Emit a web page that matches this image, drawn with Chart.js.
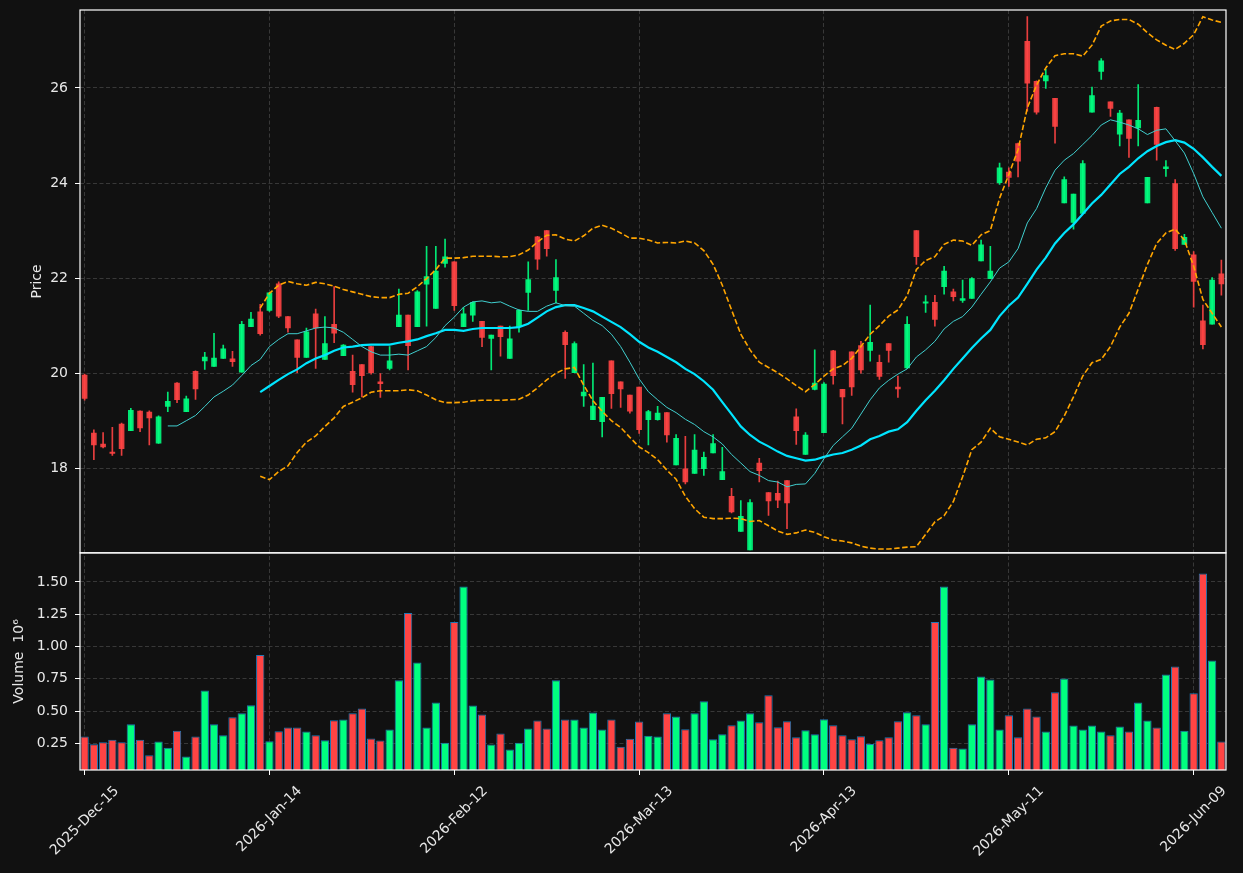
<!DOCTYPE html>
<html>
<head>
<meta charset="utf-8">
<title>Price / Volume</title>
<script src="https://cdn.jsdelivr.net/npm/chart.js@4.4.1/dist/chart.umd.min.js"></script>
<style>
  html, body { margin: 0; padding: 0; background: #111111; }
  #wrap { width: 1243px; height: 873px; }
</style>
</head>
<body>
<div id="wrap"><canvas id="chart" width="1243" height="873"></canvas></div>
<script>
// trading days (weekends / US holidays skipped)
const dates = [
  '2025-Dec-15','2025-Dec-16','2025-Dec-17','2025-Dec-18','2025-Dec-19',
  '2025-Dec-22','2025-Dec-23','2025-Dec-24','2025-Dec-26',
  '2025-Dec-29','2025-Dec-30','2025-Dec-31','2026-Jan-02',
  '2026-Jan-05','2026-Jan-06','2026-Jan-07','2026-Jan-08','2026-Jan-09',
  '2026-Jan-12','2026-Jan-13','2026-Jan-14','2026-Jan-15','2026-Jan-16',
  '2026-Jan-20','2026-Jan-21','2026-Jan-22','2026-Jan-23',
  '2026-Jan-26','2026-Jan-27','2026-Jan-28','2026-Jan-29','2026-Jan-30',
  '2026-Feb-02','2026-Feb-03','2026-Feb-04','2026-Feb-05','2026-Feb-06',
  '2026-Feb-09','2026-Feb-10','2026-Feb-11','2026-Feb-12','2026-Feb-13',
  '2026-Feb-17','2026-Feb-18','2026-Feb-19','2026-Feb-20',
  '2026-Feb-23','2026-Feb-24','2026-Feb-25','2026-Feb-26','2026-Feb-27',
  '2026-Mar-02','2026-Mar-03','2026-Mar-04','2026-Mar-05','2026-Mar-06',
  '2026-Mar-09','2026-Mar-10','2026-Mar-11','2026-Mar-12','2026-Mar-13',
  '2026-Mar-16','2026-Mar-17','2026-Mar-18','2026-Mar-19','2026-Mar-20',
  '2026-Mar-23','2026-Mar-24','2026-Mar-25','2026-Mar-26','2026-Mar-27',
  '2026-Mar-30','2026-Mar-31','2026-Apr-01','2026-Apr-02',
  '2026-Apr-06','2026-Apr-07','2026-Apr-08','2026-Apr-09','2026-Apr-10',
  '2026-Apr-13','2026-Apr-14','2026-Apr-15','2026-Apr-16','2026-Apr-17',
  '2026-Apr-20','2026-Apr-21','2026-Apr-22','2026-Apr-23','2026-Apr-24',
  '2026-Apr-27','2026-Apr-28','2026-Apr-29','2026-Apr-30','2026-May-01',
  '2026-May-04','2026-May-05','2026-May-06','2026-May-07','2026-May-08',
  '2026-May-11','2026-May-12','2026-May-13','2026-May-14','2026-May-15',
  '2026-May-18','2026-May-19','2026-May-20','2026-May-21','2026-May-22',
  '2026-May-26','2026-May-27','2026-May-28','2026-May-29',
  '2026-Jun-01','2026-Jun-02','2026-Jun-03','2026-Jun-04','2026-Jun-05',
  '2026-Jun-08','2026-Jun-09','2026-Jun-10','2026-Jun-11','2026-Jun-12'
];

// date labels shown on the x axis
const shownDates = ['2025-Dec-15','2026-Jan-14','2026-Feb-12','2026-Mar-13','2026-Apr-13','2026-May-11','2026-Jun-09'];

const opens = [
  19.96,18.74,18.51,18.34,18.93,18.79,19.20,19.18,18.53,19.30,
  19.79,19.19,20.04,20.26,20.14,20.31,20.30,20.02,20.98,21.29,
  21.32,21.88,21.19,20.70,20.33,21.25,20.29,21.03,20.37,20.04,
  20.18,20.56,19.82,20.10,20.98,21.22,20.98,21.87,21.36,22.31,
  22.34,20.98,21.22,21.09,20.73,20.99,20.31,20.98,21.70,22.87,
  23.00,21.74,20.86,20.01,19.52,19.02,18.98,20.26,19.82,19.54,
  19.71,19.02,19.02,19.17,18.07,17.99,17.89,17.99,18.32,17.76,
  17.41,16.67,16.28,18.11,17.49,17.47,17.74,19.08,18.29,19.66,
  18.75,20.47,19.66,20.45,20.58,20.48,20.23,20.62,19.71,20.11,
  23.00,21.47,21.49,21.82,21.71,21.53,21.57,22.36,21.99,24.01,
  24.23,24.83,26.98,26.14,26.15,25.78,23.58,23.17,23.36,25.49,
  26.35,25.71,25.03,25.33,25.16,23.58,25.59,24.30,23.99,22.71,
  22.49,21.10,21.03,22.09
];
const highs = [
  19.98,18.81,18.75,18.86,18.95,19.26,19.21,19.21,19.10,19.60,
  19.80,19.52,20.05,20.44,20.84,20.59,20.46,21.09,21.28,21.45,
  21.70,21.92,21.19,20.70,20.95,21.35,21.19,21.82,20.60,20.38,
  20.18,20.57,19.99,20.56,21.77,21.22,21.74,22.67,22.67,22.82,
  22.35,21.38,21.50,21.09,20.80,20.99,20.99,21.33,22.34,22.88,
  23.00,22.39,20.89,20.66,20.18,20.21,19.49,20.26,19.82,19.54,
  19.71,19.22,19.30,19.17,18.71,18.67,18.71,18.34,18.71,18.44,
  17.58,17.32,17.34,18.21,17.49,17.73,17.74,19.25,18.75,20.49,
  19.80,20.48,19.66,20.45,20.67,21.43,20.38,20.62,19.94,21.19,
  23.00,21.63,21.64,22.25,21.77,21.96,22.01,22.80,22.67,24.42,
  24.32,24.84,27.50,26.15,26.39,25.78,24.13,23.77,24.47,26.02,
  26.62,25.71,25.53,25.33,26.07,24.12,25.60,24.47,24.07,22.92,
  22.56,21.43,22.01,22.38
];
const lows = [
  19.43,18.18,18.43,18.27,18.27,18.79,18.77,18.49,18.52,19.19,
  19.38,19.19,19.45,20.08,20.14,20.31,20.14,20.02,20.98,20.80,
  21.30,21.17,20.86,20.01,20.33,20.10,20.29,20.64,20.37,19.60,
  19.50,19.98,19.49,20.07,20.98,20.07,20.98,20.99,21.36,22.23,
  21.32,20.98,21.09,20.56,20.07,20.36,20.31,20.86,21.32,22.18,
  22.46,21.48,19.89,20.01,19.30,19.02,18.66,19.26,19.28,19.16,
  18.73,18.49,19.01,18.55,18.07,17.67,17.89,17.85,18.32,17.76,
  17.06,16.67,16.28,17.71,17.01,17.17,16.73,18.50,18.29,19.65,
  18.75,19.77,18.93,19.53,20.00,20.25,19.87,20.23,19.49,20.10,
  22.29,21.28,20.99,21.66,21.52,21.49,21.57,22.36,21.99,23.97,
  23.93,24.13,25.51,25.45,25.99,24.84,23.58,23.03,23.36,25.49,
  26.18,25.40,24.78,24.54,24.78,23.58,24.48,24.14,22.58,22.71,
  21.39,20.51,21.03,21.64
];
const closes = [
  19.47,18.49,18.45,18.31,18.41,19.22,18.85,19.06,19.08,19.41,
  19.44,19.46,19.67,20.34,20.32,20.51,20.24,21.03,21.14,20.83,
  21.69,21.20,20.95,20.33,20.87,20.95,20.62,20.84,20.59,19.76,
  19.95,20.01,19.78,20.26,21.22,20.58,21.71,22.03,22.15,22.45,
  21.42,21.25,21.49,20.75,20.80,20.77,20.72,21.32,21.97,22.40,
  22.62,22.01,20.60,20.62,19.60,19.31,19.49,19.57,19.67,19.20,
  18.81,19.19,19.16,18.70,18.63,17.71,18.38,18.23,18.52,17.93,
  17.08,16.99,17.28,17.95,17.31,17.33,17.27,18.79,18.70,19.79,
  19.77,19.95,19.50,19.71,20.07,20.65,19.93,20.48,19.67,21.03,
  22.45,21.50,21.13,22.15,21.61,21.57,21.99,22.70,22.15,24.32,
  24.12,24.46,26.10,25.49,26.26,25.19,24.07,23.77,24.41,25.84,
  26.57,25.57,25.47,24.94,25.32,24.12,24.81,24.34,22.62,22.86,
  21.93,20.60,21.96,21.88
];
// volume in millions
const volumes = [
  0.302,0.242,0.258,0.278,0.258,0.397,0.278,0.157,0.263,0.216,
  0.348,0.147,0.302,0.659,0.397,0.312,0.452,0.483,0.545,0.933,
  0.266,0.343,0.372,0.372,0.341,0.312,0.273,0.428,0.434,0.483,
  0.520,0.287,0.271,0.356,0.739,1.259,0.876,0.372,0.565,0.255,
  1.189,1.465,0.542,0.472,0.240,0.325,0.201,0.255,0.364,0.426,
  0.364,0.739,0.434,0.434,0.372,0.488,0.356,0.434,0.224,0.286,
  0.418,0.309,0.302,0.483,0.457,0.359,0.483,0.576,0.281,0.320,
  0.390,0.426,0.483,0.413,0.622,0.374,0.421,0.297,0.351,0.320,
  0.436,0.390,0.312,0.281,0.304,0.245,0.273,0.297,0.421,0.490,
  0.467,0.397,1.189,1.465,0.216,0.209,0.397,0.767,0.744,0.356,
  0.467,0.297,0.519,0.457,0.341,0.646,0.752,0.387,0.356,0.387,
  0.341,0.312,0.379,0.341,0.565,0.426,0.372,0.783,0.845,0.348,
  0.638,1.566,0.891,0.263
];

// moving averages / bands as drawn (empty before each window fills)
const sma10 = [
  null,null,null,null,null,null,null,null,null,18.89,
  18.89,19.00,19.11,19.30,19.50,19.62,19.75,19.95,20.16,20.29,
  20.56,20.71,20.83,20.83,20.89,20.95,20.97,20.95,20.86,20.71,
  20.56,20.45,20.38,20.38,20.40,20.38,20.47,20.56,20.75,21.00,
  21.18,21.39,21.50,21.52,21.48,21.50,21.41,21.33,21.30,21.30,
  21.41,21.48,21.42,21.41,21.26,21.11,21.00,20.82,20.56,20.23,
  19.88,19.61,19.44,19.28,19.17,19.03,18.92,18.77,18.66,18.51,
  18.29,18.11,17.93,17.85,17.74,17.71,17.61,17.66,17.67,17.89,
  18.20,18.48,18.66,18.84,19.14,19.44,19.69,19.85,19.98,20.09,
  20.34,20.49,20.67,20.93,21.09,21.19,21.39,21.66,21.92,22.21,
  22.34,22.62,23.16,23.46,23.90,24.27,24.48,24.62,24.81,25.00,
  25.22,25.33,25.28,25.22,25.14,25.02,25.11,25.14,24.89,24.63,
  24.20,23.71,23.38,23.05
];
const sma20 = [
  null,null,null,null,null,null,null,null,null,null,
  null,null,null,null,null,null,null,null,null,19.60,
  19.73,19.86,19.98,20.08,20.21,20.31,20.38,20.47,20.54,20.56,
  20.59,20.60,20.60,20.60,20.64,20.67,20.71,20.78,20.84,20.91,
  20.91,20.89,20.93,20.95,20.95,20.95,20.95,20.97,21.04,21.17,
  21.30,21.39,21.43,21.43,21.37,21.30,21.19,21.08,20.97,20.82,
  20.66,20.54,20.45,20.34,20.23,20.09,19.98,19.83,19.65,19.39,
  19.14,18.88,18.70,18.56,18.46,18.35,18.26,18.21,18.16,18.18,
  18.24,18.29,18.32,18.39,18.48,18.61,18.68,18.77,18.82,18.97,
  19.21,19.43,19.63,19.85,20.09,20.31,20.53,20.73,20.91,21.20,
  21.42,21.59,21.88,22.18,22.43,22.73,22.95,23.13,23.35,23.57,
  23.75,23.97,24.19,24.34,24.52,24.67,24.78,24.86,24.90,24.85,
  24.72,24.54,24.34,24.15
];
const bbUpper = [
  null,null,null,null,null,null,null,null,null,null,
  null,null,null,null,null,null,null,null,null,21.37,
  21.68,21.85,21.93,21.88,21.85,21.91,21.88,21.83,21.76,21.71,
  21.66,21.61,21.59,21.59,21.66,21.68,21.82,21.99,22.18,22.42,
  22.42,22.43,22.46,22.46,22.46,22.45,22.45,22.49,22.59,22.76,
  22.90,22.91,22.82,22.78,22.89,23.05,23.11,23.05,22.95,22.84,
  22.84,22.80,22.74,22.75,22.74,22.78,22.74,22.58,22.29,21.85,
  21.33,20.82,20.49,20.23,20.12,20.01,19.88,19.74,19.61,19.76,
  19.94,20.09,20.16,20.31,20.56,20.82,21.00,21.20,21.33,21.63,
  22.18,22.37,22.45,22.71,22.80,22.78,22.69,22.91,23.00,23.68,
  24.18,24.70,25.58,26.06,26.42,26.68,26.72,26.72,26.67,26.90,
  27.30,27.41,27.44,27.44,27.34,27.16,27.01,26.90,26.81,26.94,
  27.12,27.50,27.43,27.38
];
const bbLower = [
  null,null,null,null,null,null,null,null,null,null,
  null,null,null,null,null,null,null,null,null,17.83,
  17.76,17.93,18.05,18.33,18.55,18.68,18.88,19.06,19.30,19.39,
  19.48,19.60,19.63,19.63,19.63,19.65,19.63,19.54,19.44,19.38,
  19.38,19.39,19.42,19.43,19.43,19.43,19.44,19.45,19.54,19.69,
  19.86,20.00,20.09,20.12,19.75,19.42,19.20,19.00,18.86,18.65,
  18.45,18.33,18.18,17.96,17.77,17.41,17.15,16.97,16.94,16.94,
  16.95,16.94,16.88,16.90,16.79,16.68,16.61,16.64,16.70,16.65,
  16.56,16.49,16.47,16.43,16.36,16.32,16.30,16.30,16.32,16.34,
  16.35,16.61,16.87,17.00,17.30,17.82,18.39,18.55,18.84,18.66,
  18.61,18.55,18.49,18.61,18.64,18.77,19.10,19.50,19.94,20.22,
  20.29,20.56,20.97,21.26,21.77,22.29,22.73,22.95,23.03,22.80,
  22.25,21.55,21.26,20.97
];

const UP = 'rgba(0, 255, 128, 0.9)';
const DOWN = 'rgba(255, 68, 68, 0.9)';
const UP_VOL = '#00ff80';
const DOWN_VOL = '#ff4444';
const GRID = '#383838';
const TEXT = '#e8e8e8';
const FONT = 'DejaVu Sans';

const isUp = closes.map((c, i) => c >= opens[i]);
const candleColors = isUp.map(u => u ? UP : DOWN);
const volColors = isUp.map(u => u ? UP_VOL : DOWN_VOL);

// background, panel frames and the rotated date labels
const panelPlugin = {
    id: 'panelPlugin',
    beforeDraw(chart) {
        const ctx = chart.ctx;
        ctx.save();
        ctx.fillStyle = '#111111';
        ctx.fillRect(0, 0, chart.width, chart.height);
        ctx.restore();
    },
    afterDraw(chart) {
        const {ctx, chartArea, scales} = chart;
        ctx.save();
        ctx.strokeStyle = '#ffffff';
        ctx.lineWidth = 1.2;
        [scales.y, scales.vol].forEach(s => {
            ctx.strokeRect(chartArea.left, s.top, chartArea.right - chartArea.left, s.bottom - s.top);
        });

        // x labels, centred under the tick and turned 45 degrees
        ctx.font = '14px "' + FONT + '"';
        ctx.fillStyle = TEXT;
        ctx.textAlign = 'center';
        ctx.textBaseline = 'middle';
        const xs = scales.x;
        shownDates.forEach(d => {
            const idx = dates.indexOf(d);
            const x = xs.getPixelForValue(idx);
            const w = ctx.measureText(d).width;
            const half = (w * Math.SQRT1_2 + 14 * Math.SQRT1_2) / 2;
            ctx.save();
            ctx.translate(x, xs.top + 14 + half);
            ctx.rotate(-Math.PI / 4);
            ctx.fillText(d, 0, 0);
            ctx.restore();
        });
        ctx.restore();
    }
};

const tickFont = { family: FONT, size: 14 };

// stacked y axes: fixed width, no extra label padding above/below
function fitLeftAxis(s) {
    s.width = 80;
    s.paddingTop = 0;
    s.paddingBottom = 0;
}

new Chart(document.getElementById('chart'), {
    type: 'bar',
    data: {
        labels: dates,
        datasets: [
            { type: 'line', label: 'SMA10', data: sma10, yAxisID: 'y', borderColor: '#40cfcf', borderWidth: 1, pointRadius: 0, tension: 0, order: 0, clip: 0 },
            { type: 'line', label: 'SMA20', data: sma20, yAxisID: 'y', borderColor: '#00e5ff', borderWidth: 2.2, pointRadius: 0, tension: 0, order: 0, clip: 0 },
            { type: 'line', label: 'BB upper', data: bbUpper, yAxisID: 'y', borderColor: '#ffa500', borderWidth: 1.6, borderDash: [5.5, 2.5], pointRadius: 0, tension: 0, order: 0, clip: 0 },
            { type: 'line', label: 'BB lower', data: bbLower, yAxisID: 'y', borderColor: '#ffa500', borderWidth: 1.6, borderDash: [5.5, 2.5], pointRadius: 0, tension: 0, order: 0, clip: 0 },
            {
                label: 'wick',
                data: lows.map((l, i) => [l, highs[i]]),
                yAxisID: 'y',
                backgroundColor: candleColors,
                barThickness: 1,
                grouped: false,
                order: 2,
                clip: 0
            },
            {
                label: 'body',
                data: opens.map((o, i) => [o, closes[i]]),
                yAxisID: 'y',
                backgroundColor: candleColors,
                barThickness: 5,
                grouped: false,
                order: 1,
                clip: 0
            },
            {
                label: 'Volume',
                data: volumes,
                yAxisID: 'vol',
                backgroundColor: volColors,
                borderColor: '#1f77b4',
                borderWidth: 1,
                borderSkipped: false,
                barPercentage: 0.9,
                categoryPercentage: 1,
                grouped: false,
                order: 3,
                clip: 0
            }
        ]
    },
    options: {
        responsive: false,
        animation: false,
        devicePixelRatio: 1,
        layout: { padding: { left: 0, right: 17, top: 10, bottom: 0 } },
        plugins: {
            legend: { display: false },
            tooltip: { enabled: false }
        },
        scales: {
            x: {
                type: 'category',
                offset: true,
                grid: { color: GRID, offset: false, tickColor: '#ffffff', tickLength: 5, tickBorderDash: [] },
                border: { display: false, dash: [4, 2.5] },
                ticks: { display: false, autoSkip: false },
                afterBuildTicks: s => { s.ticks = s.ticks.filter(t => shownDates.includes(dates[t.value])); },
                afterFit: s => { s.height = 103; s.paddingLeft = 0; s.paddingRight = 0; }
            },
            vol: {
                type: 'linear',
                position: 'left',
                stack: 'panels',
                stackWeight: 2,
                min: 0.043,
                max: 1.725,
                grid: { color: GRID, tickColor: '#ffffff', tickLength: 5, tickBorderDash: [] },
                border: { display: false, dash: [4, 2.5] },
                ticks: { stepSize: 0.25, includeBounds: false, color: TEXT, font: tickFont, padding: 7, callback: v => v.toFixed(2) },
                title: { display: true, text: 'Volume  10⁶', color: TEXT, font: tickFont, padding: { top: 11, bottom: 0 } },
                afterFit: fitLeftAxis
            },
            y: {
                type: 'linear',
                position: 'left',
                stack: 'panels',
                stackWeight: 5,
                min: 16.22,
                max: 27.64,
                grid: { color: GRID, tickColor: '#ffffff', tickLength: 5, tickBorderDash: [] },
                border: { display: false, dash: [4, 2.5] },
                ticks: { stepSize: 2, includeBounds: false, color: TEXT, font: tickFont, padding: 7 },
                title: { display: true, text: 'Price', color: TEXT, font: tickFont, padding: { top: 29, bottom: 0 } },
                afterFit: fitLeftAxis
            }
        }
    },
    plugins: [panelPlugin]
});
</script>
</body>
</html>
